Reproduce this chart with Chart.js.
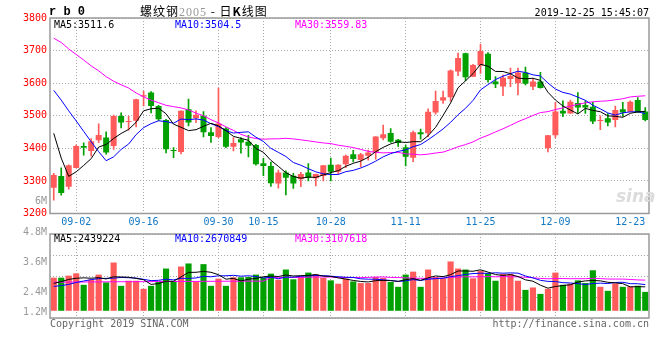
<!DOCTYPE html>
<html>
<head>
<meta charset="utf-8">
<script src="https://cdn.jsdelivr.net/npm/chart.js@4.4.1/dist/chart.umd.min.js"></script>
<style>
body { margin: 0; background: #fff; }
#wrap { position: relative; width: 660px; height: 360px; overflow: hidden; }
canvas { position: absolute; left: 0; top: 0; }
.t { position: absolute; white-space: pre; font: 10px 'DejaVu Sans Mono', monospace; line-height: 10px; }
</style>
</head>
<body>
<div id="wrap">
  <canvas id="vol" width="660" height="360"></canvas>
  <canvas id="main" width="660" height="360"></canvas>

  <div class="t" style="left:49px;top:6px;font:bold 12px 'Liberation Mono';line-height:12px">r b 0</div>
  <div class="t" style="left:140px;top:5px;font:12px 'Noto Sans CJK SC';line-height:12px;letter-spacing:1px">螺纹钢<span style="color:#999;font-family:'Liberation Serif'">2005</span> - 日<b>K</b>线图</div>
  <div class="t" style="right:11px;top:8px">2019-12-25 15:45:07</div>

  <div class="t" style="left:54px;top:20px;color:#000">MA5:3511.6</div>
  <div class="t" style="left:175px;top:20px;color:#0000ff">MA10:3504.5</div>
  <div class="t" style="left:295px;top:20px;color:#ff00ff">MA30:3559.83</div>

  <div class="t" style="left:54px;top:234px;color:#000">MA5:2439224</div>
  <div class="t" style="left:175px;top:234px;color:#0000ff">MA10:2670849</div>
  <div class="t" style="left:295px;top:234px;color:#ff00ff">MA30:3107618</div>

  <div class="t" style="right:613px;top:196px;color:#999">6M</div>
  <div class="t" style="right:613px;top:227px;color:#999">4.8M</div>
  <div class="t" style="right:613px;top:257px;color:#999">3.6M</div>
  <div class="t" style="right:613px;top:287px;color:#999">2.4M</div>
  <div class="t" style="right:613px;top:307px;color:#999">1.2M</div>

  <div class="t" style="left:50px;top:319px;color:#666">Copyright 2019 SINA.COM</div>
  <div class="t" style="right:11px;top:319px;color:#666">http://finance.sina.com.cn</div>
  <div class="t" style="left:616px;top:188px;font:italic bold 17px 'DejaVu Sans';line-height:17px;color:#dcdcdc">sina</div>
</div>
<script>
// rb0 daily candles, 2019-08-28 .. 2019-12-25
const dates = ['08-28','08-29','08-30','09-02','09-03','09-04','09-05','09-06','09-09','09-10',
  '09-11','09-12','09-16','09-17','09-18','09-19','09-20','09-23','09-24','09-25',
  '09-26','09-27','09-30','10-08','10-09','10-10','10-11','10-14','10-15','10-16',
  '10-17','10-18','10-21','10-22','10-23','10-24','10-25','10-28','10-29','10-30',
  '10-31','11-01','11-04','11-05','11-06','11-07','11-08','11-11','11-12','11-13',
  '11-14','11-15','11-18','11-19','11-20','11-21','11-22','11-25','11-26','11-27',
  '11-28','11-29','12-02','12-03','12-04','12-05','12-06','12-09','12-10','12-11',
  '12-12','12-13','12-16','12-17','12-18','12-19','12-20','12-23','12-24','12-25'];

const opens = [3279,3315,3282,3340,3407,3392,3425,3433,3407,3499,
  3481,3485,3559,3571,3530,3487,3395,3389,3520,3492,
  3500,3449,3435,3461,3405,3428,3420,3410,3354,3346,
  3292,3326,3316,3305,3326,3308,3315,3350,3328,3351,
  3382,3364,3377,3387,3431,3447,3426,3403,3371,3449,
  3446,3510,3547,3557,3636,3692,3620,3654,3690,3605,
  3590,3613,3600,3633,3589,3605,3400,3440,3515,3507,
  3539,3533,3528,3484,3492,3487,3520,3512,3548,3513];
const highs = [3323,3340,3349,3410,3417,3430,3475,3451,3502,3509,
  3499,3551,3576,3574,3532,3489,3402,3515,3551,3515,
  3513,3464,3585,3464,3433,3433,3440,3412,3369,3358,
  3333,3331,3323,3326,3353,3321,3348,3370,3350,3379,
  3394,3385,3395,3436,3471,3461,3428,3410,3453,3459,
  3521,3576,3576,3641,3692,3692,3658,3720,3694,3620,
  3625,3646,3646,3649,3614,3633,3440,3541,3546,3548,
  3571,3546,3541,3500,3507,3530,3541,3546,3556,3525];
const lows = [3241,3256,3275,3340,3379,3376,3417,3382,3397,3463,
  3456,3466,3530,3509,3485,3386,3371,3383,3469,3479,
  3435,3418,3433,3402,3392,3385,3374,3348,3316,3283,
  3278,3257,3277,3282,3300,3285,3300,3300,3321,3341,
  3358,3343,3364,3367,3426,3418,3406,3346,3359,3428,
  3436,3505,3538,3545,3623,3608,3620,3630,3603,3586,
  3562,3589,3564,3595,3580,3585,3389,3433,3497,3507,
  3507,3507,3476,3457,3469,3466,3498,3512,3510,3484];
const closes = [3318,3263,3348,3407,3402,3422,3441,3387,3499,3479,
  3484,3551,3563,3530,3489,3397,3392,3515,3479,3503,
  3449,3438,3476,3405,3416,3418,3408,3351,3346,3293,
  3326,3310,3292,3321,3310,3321,3348,3328,3350,3377,
  3367,3382,3387,3436,3443,3420,3416,3374,3449,3443,
  3512,3545,3557,3639,3677,3618,3656,3699,3610,3597,
  3617,3622,3633,3598,3605,3585,3440,3513,3507,3543,
  3525,3525,3482,3487,3479,3518,3510,3543,3510,3487];

// volume, millions
const volumes = [3.45,3.45,3.66,3.90,2.71,3.24,3.77,2.96,5.03,2.60,
  3.13,3.13,2.29,2.60,3.00,4.40,3.06,4.61,4.93,3.06,
  4.86,2.60,3.35,2.60,3.49,3.49,3.52,3.77,3.45,3.87,
  3.24,4.30,3.28,3.59,3.98,3.77,3.42,3.17,2.82,3.35,
  3.06,2.89,2.89,3.52,3.42,3.00,2.50,3.77,4.08,2.50,
  4.30,3.52,3.38,5.14,4.40,4.30,3.38,4.15,3.91,3.13,
  3.84,3.84,3.13,2.18,2.43,1.76,2.29,3.98,2.71,2.82,
  3.17,2.89,4.22,2.50,2.08,2.85,2.50,2.54,2.61,1.97];

const ma5Head = [3446, 3370, 3314, 3328];
const ma10Head = [3578, 3548, 3515, 3484, 3452, 3420, 3390, 3362, 3374];
const ma30Head = [3738, 3725, 3705, 3688, 3671, 3653, 3638, 3620, 3606, 3595,
  3585, 3570, 3558, 3548, 3540, 3532, 3528, 3524, 3518, 3508,
  3500, 3488, 3478, 3466, 3455, 3443, 3435, 3430, 3428];
const volMa5Head = [2.85, 3.04, 3.27, 3.39];
const volMa10Head = [2.55, 2.62, 2.75, 2.95, 3.10, 3.25, 3.35, 3.38, 3.40];
const volMa30Head = [2.98, 2.98, 2.99, 3.00, 3.00, 3.01, 3.01, 3.02, 3.02, 3.03,
  3.03, 3.03, 3.04, 3.04, 3.05, 3.05, 3.05, 3.06, 3.06, 3.06,
  3.07, 3.07, 3.07, 3.08, 3.08, 3.08, 3.09, 3.09, 3.09];

const tickDates = ['09-02','09-16','09-30','10-15','10-28','11-11','11-25','12-09','12-23'];
const gridDates = ['09-02','09-16','09-30','10-15','10-28','11-11','11-25','12-09'];

function movingAvg(src, n, head) {
  return src.map((v, i) => {
    if (i < n - 1) return head[i];
    let s = 0;
    for (let k = i - n + 1; k <= i; k++) s += src[k];
    return s / n;
  });
}

const RED = '#ff5b5b', GREEN = '#00a000', GRID = '#a8a8a8';
const mono = { family: "'DejaVu Sans Mono', monospace", size: 10 };
const candleColors = closes.map((c, i) => c >= opens[i] ? RED : GREEN);

const frame = {
  id: 'frame',
  afterDatasetsDraw(chart) {
    const { ctx, chartArea: a } = chart;
    ctx.save();
    ctx.strokeStyle = '#9a9a9a';
    ctx.lineWidth = 1.5;
    ctx.strokeRect(a.left, a.top, a.right - a.left, a.bottom - a.top);
    ctx.restore();
  }
};

function xAxis(showLabels) {
  return {
    type: 'category',
    offset: true,
    afterBuildTicks: s => { s.ticks = s.ticks.filter(t => tickDates.includes(dates[t.value])); },
    afterFit: s => { s.height = showLabels ? 20 : 0; },
    grid: {
      offset: false,
      drawTicks: false,
      color: c => c.tick && gridDates.includes(dates[c.tick.value]) ? GRID : 'rgba(0,0,0,0)'
    },
    border: { display: false, dash: [1, 2] },
    ticks: { display: showLabels, autoSkip: false, maxRotation: 0, padding: 3, color: '#1479c4', font: mono }
  };
}

function maLine(data, color) {
  return { type: 'line', data, borderColor: color, borderWidth: 1, pointRadius: 0, tension: 0, order: 0 };
}

const common = {
  responsive: false,
  maintainAspectRatio: false,
  devicePixelRatio: 1,
  animation: false,
  plugins: { legend: { display: false }, tooltip: { enabled: false } }
};

new Chart(document.getElementById('main').getContext('2d'), {
  type: 'bar',
  data: {
    labels: dates,
    datasets: [
      maLine(movingAvg(closes, 5, ma5Head), '#000000'),
      maLine(movingAvg(closes, 10, ma10Head), '#0000ff'),
      maLine(movingAvg(closes, 30, ma30Head), '#ff00ff'),
      {
        type: 'bar',
        data: opens.map((o, i) => [o, closes[i]]),
        backgroundColor: candleColors,
        grouped: false,
        barPercentage: 0.8,
        categoryPercentage: 1,
        minBarLength: 1,
        order: 1
      },
      {
        type: 'bar',
        data: lows.map((l, i) => [l, highs[i]]),
        backgroundColor: candleColors,
        grouped: false,
        barThickness: 1,
        order: 2
      }
    ]
  },
  options: {
    ...common,
    layout: { padding: { top: 18, right: 11, bottom: 126.5, left: 0 } },
    scales: {
      x: xAxis(true),
      y: {
        min: 3200,
        max: 3800,
        afterFit: s => { s.width = 50; },
        ticks: { stepSize: 100, color: '#ff0000', font: mono, padding: 3, callback: v => String(v) },
        grid: { color: GRID, drawTicks: false },
        border: { display: false, dash: [1, 2] }
      }
    }
  },
  plugins: [frame]
});

new Chart(document.getElementById('vol').getContext('2d'), {
  type: 'bar',
  data: {
    labels: dates,
    datasets: [
      maLine(movingAvg(volumes, 5, volMa5Head), '#000000'),
      maLine(movingAvg(volumes, 10, volMa10Head), '#0000ff'),
      maLine(movingAvg(volumes, 30, volMa30Head), '#ff00ff'),
      {
        type: 'bar',
        data: volumes,
        backgroundColor: candleColors,
        barPercentage: 0.82,
        categoryPercentage: 1,
        order: 1
      }
    ]
  },
  options: {
    ...common,
    layout: { padding: { top: 234, right: 11, bottom: 42, left: 0 } },
    scales: {
      x: xAxis(false),
      y: {
        min: -0.75,
        max: 8,
        afterFit: s => { s.width = 50; },
        ticks: { display: false, stepSize: 2.1875 },
        grid: { color: GRID, drawTicks: false },
        border: { display: false, dash: [1, 2] }
      }
    }
  },
  plugins: [frame]
});
</script>
</body>
</html>
